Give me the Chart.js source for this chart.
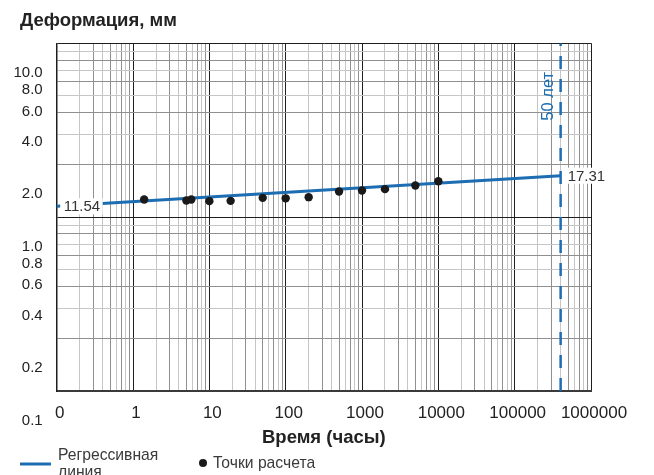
<!DOCTYPE html>
<html><head><meta charset="utf-8">
<script src="https://cdn.jsdelivr.net/npm/chart.js@4.4.1/dist/chart.umd.min.js"></script>
<style>html,body{margin:0;padding:0;background:#fff;overflow:hidden}#wrap{width:654px;height:475px;position:relative}</style>
</head><body><div id="wrap"><canvas id="c" width="654" height="475"></canvas></div>
<script>
const chartTitle = 'Деформация, мм';
const xAxisTitle = 'Время (часы)';
const xTickValues = [0.1, 1, 10, 100, 1000, 10000, 100000, 1000000];
const xTickLabels = ['0', '1', '10', '100', '1000', '10000', '100000', '1000000'];
const yGridDecades = [1, 10, 100];
const yTickValues = [1, 2, 4, 6, 8, 10, 20, 40, 60, 80, 100];
const yTickLabels = ['0.1', '0.2', '0.4', '0.6', '0.8', '1.0', '2.0', '4.0', '6.0', '8.0', '10.0'];
const pointHours = [1.4, 5, 5.8, 10, 19, 50, 100, 200, 500, 1000, 2000, 5000, 10000];
const pointDeform = [12.64, 12.47, 12.64, 12.36, 12.41, 12.91, 12.83, 13.03, 14.05, 14.23, 14.49, 15.21, 16.1];
const regressionHours = [0.1, 400000];
const regressionDeform = [11.54, 17.31];
const horizonHours = 400000;
const horizonLabel = '50 лет';
const seriesNames = ['Регрессивная линия', 'Точки расчета'];

const FONT = '"Liberation Sans", Arial, Helvetica, sans-serif';
const BLUE = '#1c6db2';

function decadeGrid(decades) {
  const out = [];
  for (let i = 0; i < decades.length; i++) {
    out.push(decades[i]);
    if (i < decades.length - 1) for (let k = 2; k <= 9; k++) out.push(decades[i] * k);
  }
  return out;
}
function mantissa(v) {
  const e = Math.floor(Math.log10(v) + 1e-9);
  return Math.round(v / Math.pow(10, e));
}
function labelFor(values, labels, v) {
  for (let i = 0; i < values.length; i++) if (Math.abs(values[i] - v) / values[i] < 1e-6) return labels[i];
  return '';
}

const annotationPlugin = {
  id: 'annotations',
  afterLayout(chart) {
    if (chart.titleBlock) chart.titleBlock.left = 20;
  },
  afterDatasetsDraw(chart) {
    const ctx = chart.ctx;
    const area = chart.chartArea;
    const xs = chart.scales.x;
    ctx.save();
    const hx = xs.getPixelForValue(horizonHours);
    ctx.translate(hx - 12, area.top + 53);
    ctx.rotate(-Math.PI / 2);
    ctx.font = '16.5px ' + FONT;
    ctx.fillStyle = BLUE;
    ctx.textAlign = 'center';
    ctx.textBaseline = 'middle';
    ctx.fillText(horizonLabel, 0, 0);
    ctx.restore();
    const meta = chart.getDatasetMeta(1);
    ctx.save();
    ctx.font = '15px ' + FONT;
    ctx.textBaseline = 'middle';
    ctx.textAlign = 'left';
    meta.data.forEach((pt, i) => {
      const txt = regressionDeform[i].toFixed(2);
      const w = ctx.measureText(txt).width;
      ctx.fillStyle = '#ffffff';
      ctx.fillRect(pt.x + 3.5, pt.y - 8, w + 6, 16);
      ctx.fillStyle = '#333333';
      ctx.fillText(txt, pt.x + 7, pt.y + 1);
    });
    ctx.restore();
  },
  afterDraw(chart) {
    const ctx = chart.ctx;
    const ds = chart.data.datasets;
    ctx.save();
    ctx.font = '15.7px ' + FONT;
    ctx.textBaseline = 'middle';
    ctx.textAlign = 'left';
    ctx.fillStyle = '#3a3a3a';
    ctx.strokeStyle = ds[1].borderColor;
    ctx.lineWidth = 3;
    ctx.beginPath(); ctx.moveTo(20, 464); ctx.lineTo(51, 464); ctx.stroke();
    const parts = seriesNames[0].split(' ');
    ctx.fillText(parts[0], 58, 456);
    ctx.fillText(parts[1], 58, 473);
    ctx.fillStyle = ds[0].backgroundColor;
    ctx.beginPath(); ctx.arc(203, 463, 4, 0, Math.PI * 2); ctx.fill();
    ctx.fillStyle = '#3a3a3a';
    ctx.fillText(seriesNames[1], 213, 464);
    ctx.restore();
  }
};

new Chart(document.getElementById('c'), {
  type: 'scatter',
  data: {
    datasets: [
      {
        label: seriesNames[1],
        data: pointHours.map((h, i) => ({ x: h, y: pointDeform[i] })),
        backgroundColor: '#1a1a1a',
        borderWidth: 0,
        pointRadius: 4.2,
        showLine: false
      },
      {
        label: seriesNames[0],
        data: regressionHours.map((h, i) => ({ x: h, y: regressionDeform[i] })),
        borderColor: BLUE,
        backgroundColor: BLUE,
        borderWidth: 3,
        pointRadius: 0,
        showLine: true,
        clip: 3
      },
      {
        label: horizonLabel,
        data: [{ x: horizonHours, y: yGridDecades[0] }, { x: horizonHours, y: yGridDecades[yGridDecades.length - 1] }],
        borderColor: BLUE,
        borderWidth: 2.5,
        borderDash: [13, 10],
        pointRadius: 0,
        showLine: true
      }
    ]
  },
  options: {
    responsive: false,
    animation: false,
    layout: { padding: { left: 8, right: 63, top: 0, bottom: 25.9 } },
    plugins: {
      legend: { display: false },
      tooltip: { enabled: false },
      title: {
        display: true,
        text: chartTitle,
        align: 'start',
        color: '#222222',
        font: { family: FONT, size: 18.5, weight: 'bold' },
        padding: { top: 9.5, bottom: 11.6 }
      }
    },
    scales: {
      x: {
        type: 'logarithmic',
        min: xTickValues[0],
        max: xTickValues[xTickValues.length - 1],
        afterBuildTicks: (scale) => { scale.ticks = decadeGrid(xTickValues).map(v => ({ value: v })); },
        afterFit: (scale) => { scale.height = 58.1; },
        ticks: {
          autoSkip: false,
          maxRotation: 0,
          padding: 12,
          labelOffset: 3,
          color: '#222222',
          font: { family: FONT, size: 17 },
          callback: (v) => labelFor(xTickValues, xTickLabels, v)
        },
        grid: {
          drawTicks: false,
          color: (c) => { const k = mantissa(c.tick.value); return k === 1 ? '#1e1e1e' : (k % 2 ? '#8f8f8f' : '#c6c6c6'); },
          lineWidth: 1
        },
        border: { display: true, color: '#3a3a3a', width: 2 },
        title: {
          display: true,
          text: xAxisTitle,
          color: '#222222',
          font: { family: FONT, size: 18.5, weight: 'bold' },
          padding: 0
        }
      },
      y: {
        type: 'logarithmic',
        min: yGridDecades[0],
        max: yGridDecades[yGridDecades.length - 1],
        afterBuildTicks: (scale) => { scale.ticks = decadeGrid(yGridDecades).map(v => ({ value: v })); },
        afterFit: (scale) => { scale.width = 48.7; },
        ticks: {
          autoSkip: false,
          padding: 14,
          labelOffset: 29.5,
          color: '#222222',
          font: { family: FONT, size: 15 },
          callback: (v) => labelFor(yTickValues, yTickLabels, v)
        },
        grid: {
          drawTicks: false,
          color: (c) => { const k = mantissa(c.tick.value); return k === 1 ? '#1e1e1e' : (k % 2 ? '#c6c6c6' : '#8f8f8f'); },
          lineWidth: 1
        },
        border: { display: true, color: '#1e1e1e', width: 1.5 }
      }
    }
  },
  plugins: [annotationPlugin]
});
</script>
</body></html>
